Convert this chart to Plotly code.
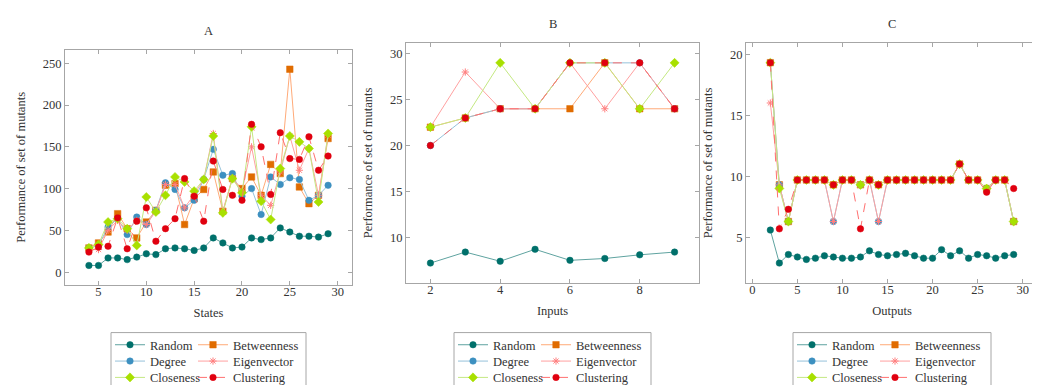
import plotly.graph_objects as go

W, H = 1040, 385

# ---------------- data ----------------
series_names = ["Random", "Betweenness", "Degree", "Eigenvector", "Closeness", "Clustering"]

states = list(range(4, 30))
a_random = [8, 8, 17, 17, 15, 18, 22, 21, 28, 29, 28, 26, 29, 41, 35, 29, 30, 41, 39, 41, 53, 48, 43, 43, 42, 46]
a_betweenness = [29, 35, 48, 70, 52, 41, 60, 74, 104, 106, 57, 88, 99, 120, 73, 112, 100, 114, 92, 129, 118, 243, 102, 82, 92, 160]
a_degree = [29, 32, 54, 64, 45, 66, 57, 74, 107, 99, 77, 86, 111, 147, 116, 118, 91, 100, 69, 114, 105, 113, 111, 86, 92, 104]
a_eigenvector = [27, 27, 50, 62, 50, 62, 57, 73, 105, 105, 77, 93, 111, 166, 73, 113, 97, 150, 92, 80, 120, 163, 122, 148, 92, 164]
a_closeness = [29, 33, 60, 64, 52, 32, 90, 72, 92, 114, 108, 97, 111, 163, 71, 112, 95, 174, 85, 63, 124, 163, 156, 148, 84, 166]
a_clustering = [24, 30, 31, 65, 28, 61, 77, 37, 52, 64, 112, 91, 61, 133, 99, 92, 86, 177, 150, 93, 167, 136, 135, 162, 122, 139]

inputs = list(range(2, 10))
b_random = [7.2, 8.4, 7.4, 8.7, 7.5, 7.7, 8.1, 8.4]
b_betweenness = [22, 23, 24, 24, 24, 29, 24, 24]
b_degree = [20, 23, 24, 24, 29, 29, 29, 24]
b_eigenvector = [22, 28, 24, 24, 29, 24, 29, 24]
b_closeness = [22, 23, 29, 24, 29, 29, 24, 29]
b_clustering = [20, 23, 24, 24, 29, 29, 29, 24]

outputs = list(range(2, 30))
c_random = [5.6, 2.9, 3.6, 3.4, 3.2, 3.3, 3.5, 3.4, 3.3, 3.3, 3.4, 3.9, 3.6, 3.5,
            3.6, 3.7, 3.5, 3.3, 3.3, 4.0, 3.5, 3.9, 3.3, 3.6, 3.5, 3.3, 3.5, 3.6]
c_betweenness = [19.3, 9.3, 6.3, 9.7, 9.7, 9.7, 9.7, 9.3, 9.7, 9.7, 9.3, 9.7, 9.3, 9.7,
                 9.7, 9.7, 9.7, 9.7, 9.7, 9.7, 9.7, 11.0, 9.7, 9.7, 9.0, 9.7, 9.7, 6.3]
c_degree = [19.3, 9.3, 6.3, 9.7, 9.7, 9.7, 9.7, 6.3, 9.7, 9.7, 9.3, 9.7, 6.3, 9.7,
            9.7, 9.7, 9.7, 9.7, 9.7, 9.7, 9.7, 11.0, 9.7, 9.7, 9.0, 9.7, 9.7, 6.3]
c_eigenvector = [16.0, 9.3, 6.3, 9.7, 9.7, 9.7, 9.7, 6.3, 9.7, 9.7, 9.3, 9.7, 6.3, 9.7,
                 9.7, 9.7, 9.7, 9.7, 9.7, 9.7, 9.7, 11.0, 9.7, 9.7, 9.0, 9.7, 9.7, 6.3]
c_closeness = [19.3, 9.0, 6.3, 9.7, 9.7, 9.7, 9.7, 9.3, 9.7, 9.7, 9.3, 9.7, 9.3, 9.7,
               9.7, 9.7, 9.7, 9.7, 9.7, 9.7, 9.7, 11.0, 9.7, 9.7, 9.0, 9.7, 9.7, 6.3]
c_clustering = [19.3, 5.7, 7.3, 9.7, 9.7, 9.7, 9.7, 9.3, 9.7, 9.7, 5.7, 9.7, 9.3, 9.7,
                9.7, 9.7, 9.7, 9.7, 9.7, 9.7, 9.7, 11.0, 9.7, 9.7, 8.7, 9.7, 9.7, 9.0]

panel_titles = ["A", "B", "C"]
x_titles = ["States", "Inputs", "Outputs"]
y_title = "Performance of set of mutants"
x_ticks = [[5, 10, 15, 20, 25, 30], [2, 4, 6, 8], [0, 5, 10, 15, 20, 25, 30]]
y_ticks = [[0, 50, 100, 150, 200, 250], [5, 10, 15, 20, 25, 30], [5, 10, 15, 20]]

panels = [
    (states, [a_random, a_betweenness, a_degree, a_eigenvector, a_closeness, a_clustering]),
    (inputs, [b_random, b_betweenness, b_degree, b_eigenvector, b_closeness, b_clustering]),
    (outputs, [c_random, c_betweenness, c_degree, c_eigenvector, c_closeness, c_clustering]),
]

# ---------------- styles ----------------
FONT = "Liberation Serif"
FS = 12.5
TXT = "#333333"
styles = {
    "Random":      dict(mc="#00706b", lc="#5fa3a0", sym="circle", size=6.5, dash="solid"),
    "Betweenness": dict(mc="#e06c00", lc="#ffaa78", sym="square", size=6.5, dash="solid"),
    "Degree":      dict(mc="#3d90c0", lc="#95c2da", sym="circle", size=6.5, dash="solid"),
    "Eigenvector": dict(mc="#ff7f7f", lc="#ffa0a0", sym="asterisk-open", size=6, dash="solid"),
    "Closeness":   dict(mc="#a8e000", lc="#c4e882", sym="diamond", size=7, dash="solid"),
    "Clustering":  dict(mc="#e0000f", lc="#ff7070", sym="circle", size=6.5, dash="dash"),
}

# pixel geometry of plot areas (left, right, top, bottom)
areas = [(57, 344, 42, 280), (398, 691, 35, 278), (738, 1030, 35, 278)]
ranges_x = [[1.5, 31.5], [1.3, 9.7], [-0.7, 31.7]]
ranges_y = [[-15.5, 266.5], [5.02, 31.2], [1.26, 20.94]]
legend_left = [102, 445, 784]
legend_box = [(103, 298), (446, 643), (785, 983)]
row_centers = [340, 356.5, 373]
rows_of = {"Random": 0, "Betweenness": 0, "Degree": 1, "Eigenvector": 1, "Closeness": 2, "Clustering": 2}
second_col = {"Betweenness", "Eigenvector", "Clustering"}


def px_x(p):
    return p / W


def px_y(p):
    return 1 - p / H


fig = go.Figure()
layout = dict(
    width=W, height=H, autosize=False,
    margin=dict(l=0, r=0, t=0, b=0),
    paper_bgcolor="white", plot_bgcolor="white",
    font=dict(family=FONT, size=FS, color=TXT),
    annotations=[], shapes=[],
)

for p, (xs, ys_list) in enumerate(panels):
    sfx = "" if p == 0 else str(p + 1)
    for name, ys in zip(series_names, ys_list):
        st = styles[name]
        lg_idx = p * 3 + rows_of[name] + 1
        lg = "legend" if lg_idx == 1 else f"legend{lg_idx}"
        marker = dict(symbol=st["sym"], size=st["size"], color=st["mc"])
        if st["sym"] == "asterisk-open":
            marker["line"] = dict(color=st["mc"], width=1)
        else:
            marker["line"] = dict(color=st["mc"], width=0.5)
        kw = {}
        if name in second_col:
            kw["legendwidth"] = 72
        fig.add_trace(go.Scatter(
            x=xs, y=ys, mode="lines+markers", name=name,
            line=dict(color=st["lc"], width=1, dash=st["dash"]),
            marker=marker,
            xaxis="x" + sfx, yaxis="y" + sfx, legend=lg, **kw,
        ))
    l, r, t, b = areas[p]
    axis_common = dict(
        showline=True, linecolor="#a6a6a6", linewidth=1, mirror="ticks",
        ticks="inside", ticklen=4, tickcolor="#a6a6a6", showgrid=False, zeroline=False,
        tickfont=dict(family=FONT, size=FS, color=TXT),
    )
    layout["xaxis" + sfx] = dict(
        axis_common, domain=[px_x(l), px_x(r)], range=ranges_x[p],
        tickvals=x_ticks[p], anchor="y" + sfx, ticklabelstandoff=-5,
        title=dict(text=x_titles[p], standoff=10, font=dict(family=FONT, size=FS, color=TXT)),
    )
    layout["yaxis" + sfx] = dict(
        axis_common, domain=[px_y(b), px_y(t)], range=ranges_y[p],
        tickvals=y_ticks[p], anchor="x" + sfx,
        title=dict(text=y_title, standoff=14, font=dict(family=FONT, size=FS, color=TXT)),
    )
    layout["annotations"].append(dict(
        text=panel_titles[p], x=px_x((l + r) / 2), y=px_y(t - 19), xref="paper", yref="paper",
        xanchor="center", yanchor="middle", showarrow=False,
        font=dict(family=FONT, size=FS, color=TXT),
    ))
    bx0, bx1 = legend_box[p]
    layout["shapes"].append(dict(
        type="rect", xref="paper", yref="paper",
        x0=px_x(bx0), x1=px_x(bx1), y0=px_y(400), y1=px_y(328),
        line=dict(color="#a6a6a6", width=1), fillcolor="rgba(0,0,0,0)",
    ))
    for rr in range(3):
        lg_idx = p * 3 + rr + 1
        key = "legend" if lg_idx == 1 else f"legend{lg_idx}"
        layout[key] = dict(
            orientation="h", x=px_x(legend_left[p]), xanchor="left",
            y=px_y(row_centers[rr] - 14.5), yanchor="top",
            entrywidth=38, entrywidthmode="pixels",
            bgcolor="rgba(0,0,0,0)", borderwidth=0,
            font=dict(family=FONT, size=FS, color=TXT),
            tracegroupgap=0,
        )

fig.update_layout(**layout)
fig.write_html("out.html")
